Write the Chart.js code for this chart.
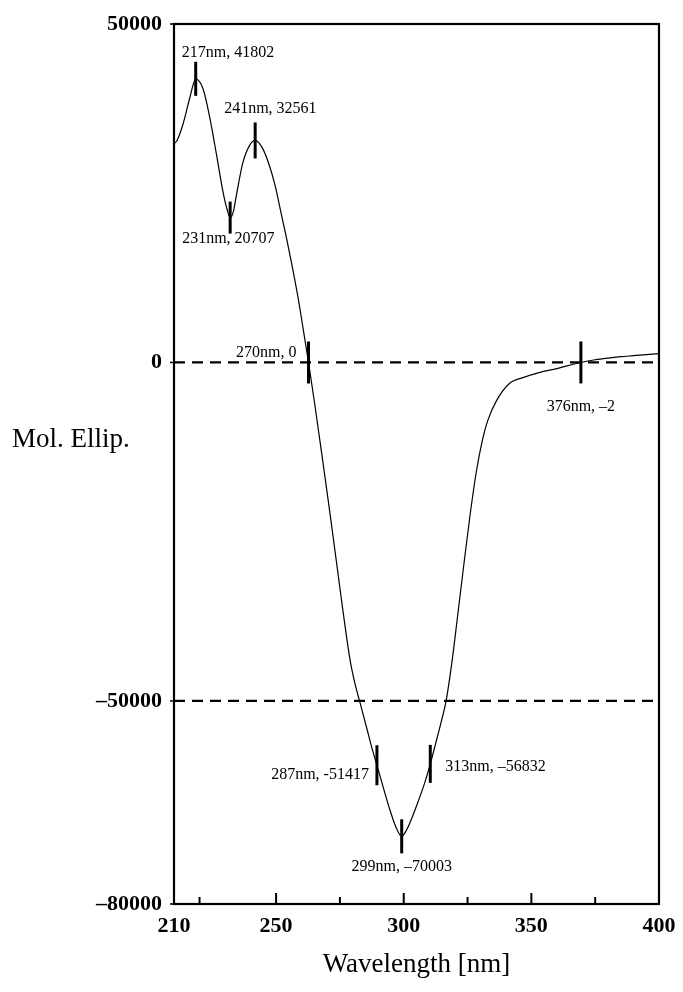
<!DOCTYPE html>
<html><head><meta charset="utf-8">
<script src="https://cdn.jsdelivr.net/npm/chart.js@4/dist/chart.umd.min.js"></script>
<style>html,body{margin:0;padding:0;background:#fff;} #wrap{width:683px;height:992px;position:relative;}</style>
</head><body><div id="wrap"><canvas id="c" width="683" height="992"></canvas></div>
<script>
// ---- data ----
const wavelengths = [210,211.2,213.6,216.2,218.5,221.4,224,226.6,229.1,230.8,232,233.2,234.3,236.9,239.5,241.8,244.6,247,249.5,252,254,256,258.5,260.5,262.7,265,268,271,274,276.7,279,281,282.9,285.5,287.5,289.5,292,294.5,297,299.2,301.2,303.5,306,308.3,310.4,312.5,314.6,316.6,318.8,320.9,323.5,326,328.5,330.8,332.9,336.4,341.4,347,353,360,369.4,375,380,385,390,395,400];
const ellipticity = [32300,32800,35300,39100,41900,40400,36200,30800,25400,22600,21400,22200,24400,29400,32000,32800,31700,29500,26300,22000,18500,14800,9800,5200,0,-5800,-13800,-22000,-30500,-38100,-44000,-47600,-50300,-54000,-56900,-59500,-62800,-66000,-68700,-70003,-69000,-67000,-64500,-62000,-59300,-56300,-53200,-50000,-44500,-38100,-30000,-22500,-16000,-11500,-8600,-5600,-3100,-2200,-1500,-900,0,400,650,850,1000,1150,1300];
const refLineValues = [0, -50000];
const markerNm = [218.5, 232, 241.8, 262.7, 289.5, 299.2, 310.4, 369.4];
const markerVal = [41900, 21400, 32800, 0, -59500, -70003, -59300, 0];
const markerLabels = ['217nm, 41802','231nm, 20707','241nm, 32561','270nm, 0','287nm, -51417','299nm, \u201370003','313nm, \u201356832','376nm, \u20132'];
const xLabelTicks = [210, 250, 300, 350, 400];
const xMarkTicks = [220, 250, 275, 300, 325, 350, 375];
const yTickValues = [50000, 0, -50000, -80000];
const yTickLabels = ['50000', '0', '\u201350000', '\u201380000'];
const xTitle = 'Wavelength [nm]';
const yTitle = 'Mol. Ellip.';

// ---- styling (not data) ----
const labelStyle = [
  {dx:-14, dy:-26, align:'left'},
  {dx:-48, dy:21, align:'left'},
  {dx:-31, dy:-32, align:'left'},
  {dx:-12, dy:-10, align:'right'},
  {dx:-8, dy:10, align:'right'},
  {dx:0, dy:30, align:'center'},
  {dx:15, dy:3, align:'left'},
  {dx:0, dy:44, align:'center'}
];
const markerRadius = [17,16,18,21,20,17,19,21];
const SERIF = "'Liberation Serif','Times New Roman',serif";

const curve = wavelengths.map((w,i)=>({x:w, y:ellipticity[i]}));
const refSets = refLineValues.map(v=>({
  type:'line', data:[{x:210,y:v},{x:400,y:v}], borderColor:'#000', borderWidth:2.2,
  borderDash:[11,7], pointRadius:0, fill:false, order:3
}));

const framePlugin = {
  id:'frame',
  afterDatasetsDraw(chart){
    const {ctx, chartArea:a, scales:{x,y}} = chart;
    ctx.save();
    ctx.strokeStyle='#000';
    ctx.lineWidth=2.2;
    ctx.strokeRect(a.left, a.top, a.right-a.left, a.bottom-a.top);
    ctx.lineWidth=2;
    xMarkTicks.forEach(v=>{
      const px = x.getPixelForValue(v);
      const len = (v % 50 === 0) ? 11 : 7;
      ctx.beginPath(); ctx.moveTo(px, a.bottom); ctx.lineTo(px, a.bottom-len); ctx.stroke();
    });
    ctx.lineWidth=1.5;
    yTickValues.forEach(v=>{
      const py = y.getPixelForValue(v);
      ctx.beginPath(); ctx.moveTo(a.left, py); ctx.lineTo(a.left-4, py); ctx.stroke();
    });
    ctx.restore();
  }
};
const labelPlugin = {
  id:'labels',
  afterDraw(chart){
    const {ctx, scales:{x,y}} = chart;
    ctx.save();
    ctx.fillStyle='#000';
    ctx.font = '16px ' + SERIF;
    ctx.textBaseline='middle';
    markerNm.forEach((w,i)=>{
      const s = labelStyle[i];
      ctx.textAlign = s.align;
      ctx.fillText(markerLabels[i], x.getPixelForValue(w)+s.dx, y.getPixelForValue(markerVal[i])+s.dy);
    });
    ctx.font = '27px ' + SERIF;
    ctx.textAlign='left';
    ctx.fillText(yTitle, 12, 440);
    ctx.restore();
  }
};

new Chart(document.getElementById('c'), {
  type:'scatter',
  data:{datasets:[
    {type:'line', data:curve, borderColor:'#000', borderWidth:1.2, pointRadius:0, fill:false,
     cubicInterpolationMode:'monotone', order:2},
    ...refSets,
    {type:'scatter', data:markerNm.map((w,i)=>({x:w,y:markerVal[i]})), pointStyle:'line',
     rotation:90, radius:markerRadius, borderColor:'#000', backgroundColor:'#000', borderWidth:3, order:1}
  ]},
  options:{
    responsive:false, animation:false, devicePixelRatio:1,
    layout:{padding:{top:23, right:19, left:0, bottom:0}},
    plugins:{legend:{display:false}, tooltip:{enabled:false}},
    scales:{
      x:{type:'linear', min:210, max:400,
        afterBuildTicks(s){ s.ticks = xLabelTicks.map(v=>({value:v})); },
        afterFit(s){ s.height = 88; s.paddingLeft = 0; s.paddingRight = 0; },
        grid:{display:false, drawTicks:false}, border:{display:false},
        ticks:{color:'#000', padding:9, maxRotation:0, font:{family:SERIF, size:22, weight:'bold'},
          callback:(v)=>String(v)},
        title:{display:true, text:xTitle, color:'#000', font:{family:SERIF, size:27}, padding:{top:0,bottom:11}}
      },
      y:{type:'linear', min:-80000, max:50000,
        afterBuildTicks(s){ s.ticks = yTickValues.map(v=>({value:v})); },
        afterFit(s){ s.width = 174; s.paddingTop = 0; s.paddingBottom = 0; },
        grid:{display:false, drawTicks:false}, border:{display:false},
        ticks:{color:'#000', padding:12, font:{family:SERIF, size:22, weight:'bold'},
          callback:(v)=>{ const i = yTickValues.indexOf(v); return i>=0 ? yTickLabels[i] : ''; }}
      }
    }
  },
  plugins:[framePlugin, labelPlugin]
});
</script></body></html>
